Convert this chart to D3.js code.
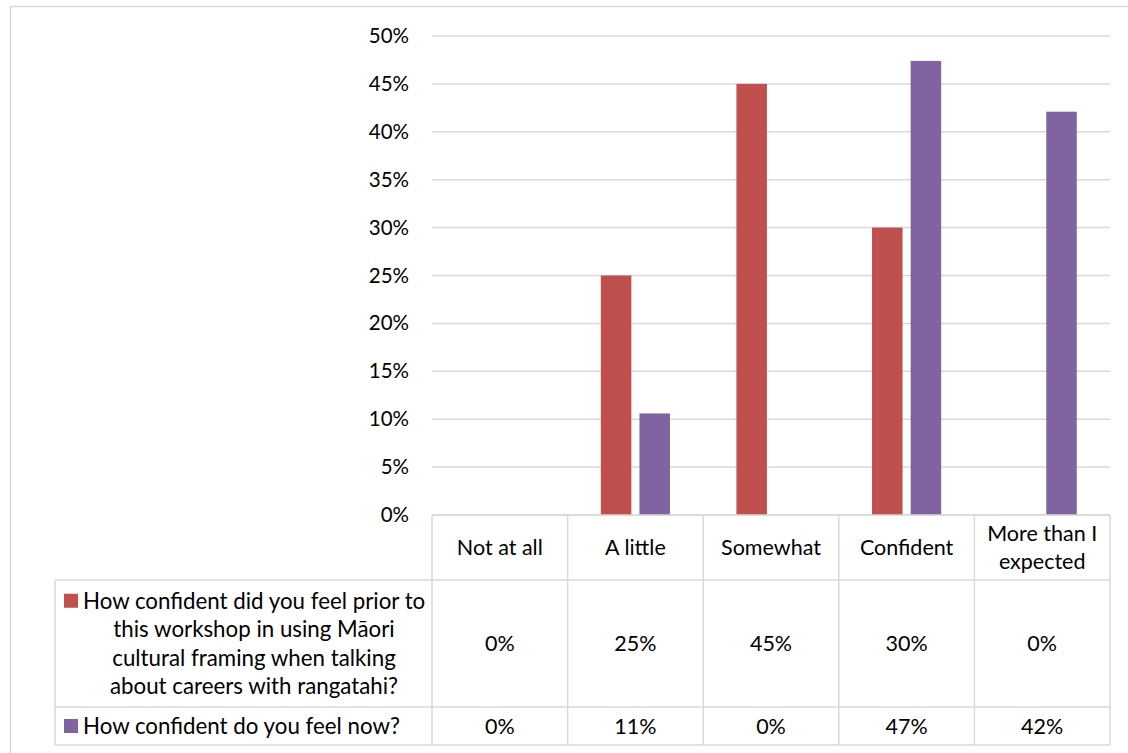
<!DOCTYPE html>
<html>
<head>
<meta charset="utf-8">
<script src="https://cdn.jsdelivr.net/npm/d3@7"></script>
<style>
  body { margin: 0; background: #fff; }
  text { font-family: Lato, "Liberation Sans", sans-serif; fill: #000; }
</style>
</head>
<body>
<div id="chart"></div>
<script>
// data
var categories = ["Not at all", "A little", "Somewhat", "Confident", "More than I expected"];
var headerLines = [["Not at all"], ["A little"], ["Somewhat"], ["Confident"], ["More than I", "expected"]];
var seriesNames = ["prior", "now"];
var legendLines = [
    ["How confident did you feel prior to", "this workshop in using Māori", "cultural framing when talking", "about careers with rangatahi?"],
    ["How confident do you feel now?"]
];
var priorValues = [0, 0.25, 0.45, 0.30, 0];
var nowValues = [0, 0.106, 0, 0.474, 0.421];
var yTicks = [0, 0.05, 0.1, 0.15, 0.2, 0.25, 0.3, 0.35, 0.4, 0.45, 0.5];
var colors = ["#C0504D", "#8064A2"];

var svgWidth = 1128;
var svgHeight = 753;

var plot = { left: 432, right: 1110, top: 36, bottom: 515 };
var rows = { header: 580, row1: 707, row2: 745 };
var legendLeft = 55;
var lineColor = "#d9d9d9";
var fontSize = 21.5;
var legendFontSize = 22.3;

var svg = d3.select("#chart")
    .append("svg")
    .attr("width", svgWidth)
    .attr("height", svgHeight);

// chart frame
svg.append("rect")
    .attr("x", 10.5)
    .attr("y", 6.5)
    .attr("width", 1140)
    .attr("height", 780)
    .attr("fill", "none")
    .attr("stroke", lineColor)
    .attr("stroke-width", 1.5);

var yScale = d3.scaleLinear()
    .domain([0, 0.5])
    .range([plot.bottom, plot.top]);

var xScale = d3.scaleBand()
    .domain(categories)
    .range([plot.left, plot.right]);

var xSub = d3.scaleBand()
    .domain(seriesNames)
    .range([0, xScale.bandwidth()])
    .paddingInner(0.21)
    .paddingOuter(0.86);

// gridlines
svg.append("g")
    .selectAll("line")
    .data(yTicks)
    .enter()
    .append("line")
    .attr("x1", plot.left)
    .attr("x2", plot.right)
    .attr("y1", d => yScale(d))
    .attr("y2", d => yScale(d))
    .attr("stroke", lineColor)
    .attr("stroke-width", 1.5);

// y axis labels
var leftAxis = d3.axisLeft(yScale)
    .tickValues(yTicks)
    .tickSize(0)
    .tickPadding(0)
    .tickFormat(d3.format(".0%"));

var yAxisGroup = svg.append("g")
    .attr("transform", "translate(409, 0)")
    .call(leftAxis);
yAxisGroup.select(".domain").remove();
yAxisGroup.selectAll("text")
    .attr("font-size", 20.5)
    .attr("font-family", "Lato, 'Liberation Sans', sans-serif")
    .attr("fill", "#000");

// bars
var barData = [];
categories.forEach(function(c, i) {
    barData.push({ cat: c, series: "prior", value: priorValues[i], color: colors[0] });
    barData.push({ cat: c, series: "now", value: nowValues[i], color: colors[1] });
});

svg.append("g")
    .selectAll("rect")
    .data(barData.filter(d => d.value > 0))
    .enter()
    .append("rect")
    .attr("x", d => xScale(d.cat) + xSub(d.series))
    .attr("width", xSub.bandwidth())
    .attr("y", d => yScale(d.value))
    .attr("height", d => yScale(0) - yScale(d.value))
    .attr("fill", d => d.color);

// data table
var table = svg.append("g")
    .attr("stroke", lineColor)
    .attr("stroke-width", 1.5);

table.append("line").attr("x1", plot.left).attr("x2", plot.right).attr("y1", plot.bottom).attr("y2", plot.bottom);
[rows.header, rows.row1, rows.row2].forEach(function(y) {
    table.append("line").attr("x1", legendLeft).attr("x2", plot.right).attr("y1", y).attr("y2", y);
});
table.append("line").attr("x1", legendLeft).attr("x2", legendLeft).attr("y1", rows.header).attr("y2", rows.row2);
categories.forEach(function(c) {
    var x = xScale(c);
    table.append("line").attr("x1", x).attr("x2", x).attr("y1", plot.bottom).attr("y2", rows.row2);
});
table.append("line").attr("x1", plot.right).attr("x2", plot.right).attr("y1", plot.bottom).attr("y2", rows.row2);

var lineHeight = 28.5;

// header text
categories.forEach(function(c, i) {
    var lines = headerLines[i];
    var cx = xScale(c) + xScale.bandwidth() / 2;
    var cy = (plot.bottom + rows.header) / 2;
    var t = svg.append("text")
        .attr("text-anchor", "middle")
        .attr("font-size", fontSize)
        .attr("y", cy - (lines.length - 1) * lineHeight / 2);
    lines.forEach(function(l, j) {
        t.append("tspan")
            .attr("x", cx)
            .attr("dy", j === 0 ? "0.35em" : lineHeight)
            .text(l);
    });
});

// row values and legend cells
var rowBounds = [[rows.header, rows.row1], [rows.row1, rows.row2]];
var rowValues = [priorValues, nowValues];
var fmt = d3.format(".0%");

rowValues.forEach(function(vals, r) {
    var cy = (rowBounds[r][0] + rowBounds[r][1]) / 2;
    svg.append("g")
        .selectAll("text")
        .data(vals)
        .enter()
        .append("text")
        .attr("text-anchor", "middle")
        .attr("font-size", fontSize)
        .attr("x", (d, i) => xScale(categories[i]) + xScale.bandwidth() / 2)
        .attr("y", cy)
        .attr("dy", "0.35em")
        .text(d => fmt(d));

    var lines = legendLines[r];
    var firstY = cy - (lines.length - 1) * lineHeight / 2;
    lines.forEach(function(l, j) {
        svg.append("text")
            .attr("text-anchor", j === 0 ? "start" : "middle")
            .attr("font-size", legendFontSize)
            .attr("x", j === 0 ? 83 : 254)
            .attr("y", firstY + j * lineHeight)
            .attr("dy", "0.35em")
            .text(l);
    });
    svg.append("rect")
        .attr("x", 64)
        .attr("y", firstY - 7)
        .attr("width", 14)
        .attr("height", 14)
        .attr("fill", colors[r]);
});
</script>
</body>
</html>
